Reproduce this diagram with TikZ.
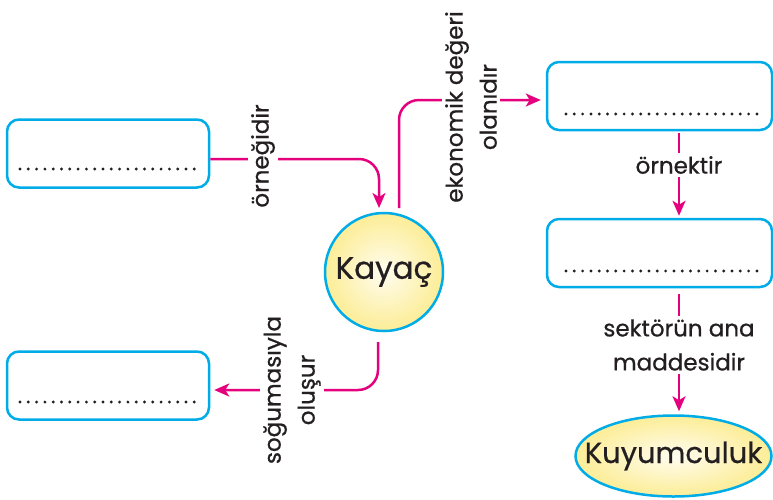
\documentclass[tikz,border=0pt]{standalone}
\usepackage{fontspec}
\setmainfont{Poppins}
\newfontfamily\medfont{Poppins}[FakeBold=0.7]
\usetikzlibrary{arrows.meta,shapes.geometric}
\definecolor{pinkc}{RGB}{229,0,125}
\definecolor{cyanc}{RGB}{0,172,232}
\definecolor{txt}{RGB}{35,31,32}
\definecolor{ylw}{RGB}{252,237,150}
\tikzset{
  box/.style={draw=cyanc, line width=2.5pt, rounded corners=12pt, rectangle, minimum width=#1, minimum height=68pt, inner sep=0pt},
  dotline/.style={txt, line width=3.2pt, line cap=round, dash pattern=on 0pt off 8.3pt},
  conn/.style={pinkc, line width=2.5pt, rounded corners=20pt, -{Stealth[length=15pt,width=13pt,inset=4pt]}},
  lbl/.style={fill=white, text=txt, font=\medfont\fontsize{23}{34}\selectfont, inner sep=3pt, align=center},
  bigtxt/.style={text=txt, font=\medfont\fontsize{#1}{#1}\selectfont},
  yfill/.style={draw=cyanc, line width=2.5pt, inner sep=0pt, shading=radial, inner color=white!85!ylw, outer color=ylw}
}
\begin{document}
\begin{tikzpicture}[x=1pt,y=-1pt]
\useasboundingbox (0,0) rectangle (773,499);
% boxes
\node[box=202pt] (bL1) at (108,153.5) {};
\node[box=202pt] (bL2) at (108,385.5) {};
\node[box=225pt] (bR1) at (659.5,96) {};
\node[box=225pt] (bR2) at (659.5,253) {};
\draw[dotline] (20,169) -- (198,169);
\draw[dotline] (20,402) -- (198,402);
\draw[dotline] (566,114) -- (762,114);
\draw[dotline] (566,271) -- (762,271);
% central circle
\node[circle, yfill, minimum size=118pt] (kayac) at (384,272) {};
\node[bigtxt=31] (kayact) at (kayac) {Kayaç};
% ellipse
\node[ellipse, yfill, minimum width=196pt, minimum height=81pt] (kuyum) at (673.5,456) {};
\node[bigtxt=29] (kuyumt) at (kuyum) {Kuyumculuk};
% connector points
\coordinate (t1) at (379,208);
\coordinate (s2) at (399,208);
\coordinate (s3) at (378,342);
\coordinate (r1) at ([xshift=19.5pt]bR1.south);
\coordinate (r2) at ([xshift=19.5pt]bR2.south);
% connectors
\draw[conn] ([yshift=-5.5pt]bL1.east) -| (t1);
\draw[conn, shorten >=5pt] (s2) |- ([yshift=-4pt]bR1.west);
\draw[conn, shorten >=4pt] (s3) |- ([yshift=-4.5pt]bL2.east);
\draw[conn, shorten <=2pt, shorten >=2pt] (r1) -- (r1 |- bR2.north);
\draw[conn, shorten <=6pt, shorten >=3pt] (r2) -- (r2 |- kuyum.north);
% labels
\node[lbl, rotate=90] (l1) at (263,156) {örneğidir};
\node[lbl, rotate=90] (l2) at (471,107) {ekonomik değeri\\olanıdır};
\node[lbl, rotate=90] (l3) at (292,390) {soğumasıyla\\oluşur};
\node[lbl] (l4) at (679,165) {örnektir};
\node[lbl] (l5) at (679,345) {sektörün ana\\maddesidir};
\end{tikzpicture}
\end{document}
